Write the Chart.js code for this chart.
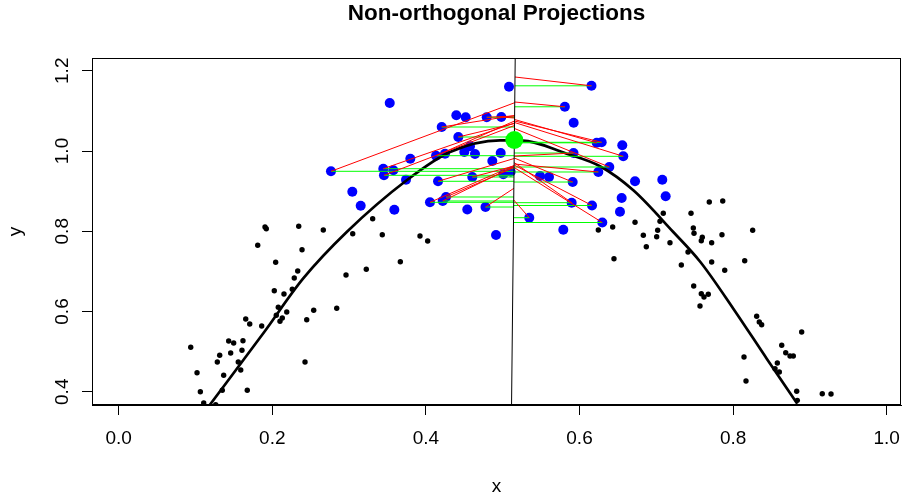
<!DOCTYPE html>
<html>
<head>
<meta charset="utf-8">
<script src="https://cdn.jsdelivr.net/npm/chart.js@4.4.1/dist/chart.umd.min.js"></script>
<style>
  html, body { margin: 0; padding: 0; background: #fff; }
  #wrap { width: 902px; height: 500px; }
</style>
</head>
<body>
<div id="wrap"><canvas id="chart" width="902" height="500"></canvas></div>
<script>
const FONT = "'Liberation Sans', Arial, Helvetica, sans-serif";

// background sample (small black dots)
const blackX = [0.1905, 0.1922, 0.2344, 0.1810, 0.2044, 0.2387, 0.2331, 0.2286, 0.2260, 0.2026,
  0.2152, 0.2078, 0.2052, 0.2188, 0.2130, 0.2100, 0.1862, 0.1654, 0.1706, 0.1432,
  0.1497, 0.1618, 0.0938, 0.1315, 0.1458, 0.1605, 0.1284, 0.1557, 0.1589, 0.1367,
  0.1020, 0.1063, 0.1349, 0.1674, 0.1107, 0.1263,
  0.2664, 0.3047, 0.3432, 0.3923, 0.4023, 0.2960, 0.3224, 0.3667, 0.2839, 0.2539, 0.2448, 0.2426, 0.3307,
  0.7690, 0.7091, 0.7452, 0.6723, 0.6432, 0.6245, 0.7018, 0.7048, 0.7482, 0.6831,
  0.7005, 0.6870, 0.7178, 0.6449, 0.7326, 0.7413, 0.7491, 0.7586, 0.7599, 0.7487,
  0.7586, 0.7621, 0.7677, 0.7569,
  0.7855, 0.7721, 0.8255, 0.7721, 0.8151, 0.7891, 0.8307, 0.8341, 0.8372, 0.8893,
  0.8633, 0.8685, 0.8741, 0.8784, 0.8142, 0.8576, 0.8546, 0.8602, 0.8168, 0.8828,
  0.8836, 0.9161, 0.9275, 0.7865];
const blackY = [0.8106, 0.8064, 0.8123, 0.7650, 0.7226, 0.7540, 0.7009, 0.6835, 0.6553, 0.6518,
  0.6436, 0.6105, 0.5905, 0.5988, 0.5838, 0.5756, 0.5639, 0.5813, 0.5688, 0.5265,
  0.5215, 0.5272, 0.5108, 0.4909, 0.4966, 0.5033, 0.4741, 0.4741, 0.4542, 0.4410,
  0.4475, 0.4001, 0.4036, 0.4036, 0.3720, 0.3677,
  0.8031, 0.7939, 0.7914, 0.7882, 0.7757, 0.6910, 0.7052, 0.7241, 0.6080, 0.6030, 0.5796, 0.4741, 0.8313,
  0.8729, 0.8447, 0.8447, 0.8223, 0.8106, 0.8031, 0.8024, 0.8248, 0.8081, 0.7899,
  0.7864, 0.7615, 0.7715, 0.7316, 0.7159, 0.7483, 0.7949, 0.7764, 0.7849, 0.6636,
  0.6444, 0.6361, 0.6429, 0.6137,
  0.7914, 0.7715, 0.8024, 0.7234, 0.7266, 0.7027, 0.5880, 0.5738, 0.5671, 0.5489,
  0.5158, 0.4973, 0.4891, 0.4891, 0.4866, 0.4717, 0.4575, 0.4492, 0.4268, 0.4011,
  0.3786, 0.3951, 0.3944, 0.8754];

// neighbourhood points (blue)
const blueX = [0.3529, 0.2764, 0.3042, 0.3151, 0.3589, 0.3445, 0.3454, 0.3576, 0.3741, 0.3797,
  0.4206, 0.4396, 0.4518, 0.4792, 0.4982, 0.5082, 0.4422, 0.4132, 0.4249, 0.4500,
  0.4574, 0.4639, 0.4974, 0.4865, 0.4604, 0.4158, 0.5008, 0.5104, 0.4053, 0.4219,
  0.4262, 0.4539, 0.4776, 0.4913, 0.6156, 0.5809, 0.5924, 0.6224, 0.6289, 0.6557,
  0.6570, 0.5922, 0.6388, 0.6245, 0.6723, 0.7078, 0.7122, 0.6549, 0.6527, 0.5486,
  0.5603, 0.5911, 0.5898, 0.6163, 0.5346, 0.6297, 0.5789];
const blueY = [1.1196, 0.9494, 0.8986, 0.8637, 0.8537, 0.9559, 0.9394, 0.9519, 0.9285, 0.9808,
  1.0598, 1.0890, 1.0840, 1.0840, 1.0847, 1.1602, 1.0349, 0.9883, 0.9933, 0.9975,
  1.0117, 0.9925, 0.9950, 0.9751, 0.9352, 0.9245, 0.9419, 0.9484, 0.8721, 0.8754,
  0.8854, 0.8542, 0.8604, 0.7907, 1.1625, 1.1102, 1.0703, 1.0204, 1.0217, 1.0142,
  0.9868, 0.9950, 0.9601, 0.9477, 0.9245, 0.9285, 0.8871, 0.8829, 0.8487, 0.9377,
  0.9352, 0.9227, 0.8712, 0.8642, 0.8338, 0.8218, 0.8039];

// which blue points are projected, and the y where the red projection meets the line
const projIdx = [1, 5, 6, 10, 16, 17, 25, 28, 29, 30, 32, 13, 14, 24,
  34, 35, 37, 38, 40, 42, 43, 51, 52, 53, 55, 54, 41];
const redEndY = [1.1204, 1.0698, 1.0636, 1.0885, 1.0685, 1.0748, 0.9813, 0.9639, 0.9614, 0.9589, 0.9070, 1.0872, 1.0822, 0.9626,
  1.1844, 1.1221, 1.0785, 1.0748, 1.0710, 1.0561, 0.9676, 0.9826, 0.9713, 0.9651, 0.9589, 0.8779, 0.9875];

// fitted curve
const curveX = [0.1185, 0.1895, 0.2400, 0.2969, 0.3750, 0.4314, 0.4965, 0.5225, 0.5833, 0.6267, 0.6701, 0.7221, 0.7574, 0.8003, 0.8438, 0.8836];
const curveY = [0.3670, 0.5489, 0.6817, 0.7981, 0.9270, 0.9975, 1.0267, 1.0267, 0.9933, 0.9620, 0.9021, 0.7981, 0.7234, 0.6070, 0.4824, 0.3702];

// projection line and its centre
const axisLineX = [0.5163, 0.5115];
const axisLineY = [1.2343, 0.3645];
const centerX = [0.5151];
const centerY = [1.0274];

const xTicks = [0, 0.2, 0.4, 0.6, 0.8, 1.0];
const yTicks = [0.4, 0.6, 0.8, 1.0, 1.2];

function lineXAt(y) {
  const t = (y - axisLineY[0]) / (axisLineY[1] - axisLineY[0]);
  return axisLineX[0] + t * (axisLineX[1] - axisLineX[0]);
}

const greenSeg = [];
const redSeg = [];
projIdx.forEach((k, i) => {
  const px = blueX[k], py = blueY[k];
  greenSeg.push({x: px, y: py}, {x: lineXAt(py), y: py}, {x: px, y: null});
  redSeg.push({x: px, y: py}, {x: lineXAt(redEndY[i]), y: redEndY[i]}, {x: px, y: null});
});

const pts = (xs, ys) => xs.map((x, i) => ({x, y: ys[i]}));

const boxPlugin = {
  id: 'box',
  afterDatasetsDraw(chart) {
    const {ctx, chartArea: a} = chart;
    ctx.save();
    ctx.strokeStyle = '#000';
    ctx.lineWidth = 1;
    ctx.strokeRect(Math.round(a.left) + 0.5, Math.round(a.top) + 0.5,
      Math.round(a.right - a.left) - 1, Math.round(a.bottom - a.top) - 1);
    ctx.restore();
  }
};

const tickFont = {family: FONT, size: 19};

new Chart(document.getElementById('chart'), {
  type: 'scatter',
  data: {
    datasets: [
      { label: 'sample', data: pts(blackX, blackY), backgroundColor: '#000', borderWidth: 0, pointRadius: 2.7, order: 7 },
      { label: 'neighbours', data: pts(blueX, blueY), backgroundColor: '#0000ff', borderWidth: 0, pointRadius: 5, order: 6 },
      { type: 'line', label: 'curve', data: pts(curveX, curveY), borderColor: '#000', borderWidth: 2.7,
        pointRadius: 0, cubicInterpolationMode: 'monotone', fill: false, order: 5 },
      { type: 'line', label: 'horizontal', data: greenSeg, borderColor: '#00ff00', borderWidth: 1,
        pointRadius: 0, tension: 0, fill: false, spanGaps: false, order: 4 },
      { type: 'line', label: 'projection', data: redSeg, borderColor: '#ff0000', borderWidth: 1,
        pointRadius: 0, tension: 0, fill: false, spanGaps: false, order: 3 },
      { type: 'line', label: 'axis', data: pts(axisLineX, axisLineY), borderColor: '#000', borderWidth: 1,
        pointRadius: 0, tension: 0, fill: false, order: 2 },
      { label: 'centre', data: pts(centerX, centerY), backgroundColor: '#00ff00', borderWidth: 0, pointRadius: 9, order: 1 }
    ]
  },
  options: {
    responsive: false,
    animation: false,
    devicePixelRatio: 1,
    clip: 0,
    events: [],
    layout: { autoPadding: false, padding: { left: 0, right: 1, top: 0, bottom: 0 } },
    plugins: {
      legend: { display: false },
      tooltip: { enabled: false },
      title: {
        display: true,
        text: 'Non-orthogonal Projections',
        color: '#000',
        fullSize: false,
        font: { family: FONT, size: 22.5, weight: 'bold', lineHeight: 1 },
        padding: { top: 3, bottom: 32.5 }
      }
    },
    scales: {
      x: {
        type: 'linear',
        min: -0.03477,
        max: 1.01862,
        afterBuildTicks: s => { s.ticks = xTicks.map(v => ({value: v})); },
        afterFit: s => { s.height = 95; s.paddingLeft = 0; s.paddingRight = 0; },
        ticks: { font: tickFont, color: '#000', padding: 12, maxRotation: 0, autoSkip: false,
          callback: v => v.toFixed(1) },
        grid: { drawOnChartArea: false, drawTicks: true, tickLength: 10, color: '#000', tickWidth: 1 },
        border: { display: true, color: '#000', width: 1 },
        title: { display: true, text: 'x', color: '#000', font: tickFont, padding: { top: 0, bottom: 2 } }
      },
      y: {
        type: 'linear',
        min: 0.36698,
        max: 1.23178,
        afterBuildTicks: s => { s.ticks = yTicks.map(v => ({value: v})); },
        afterFit: s => { s.width = 92; s.paddingTop = 0; s.paddingBottom = 0; },
        ticks: { font: tickFont, color: '#000', padding: 6, minRotation: 90, maxRotation: 90,
          crossAlign: 'center', autoSkip: false, callback: v => v.toFixed(1) },
        grid: { drawOnChartArea: false, drawTicks: true, tickLength: 10, color: '#000', tickWidth: 1 },
        border: { display: true, color: '#000', width: 1 },
        title: { display: true, text: 'y', color: '#000', font: tickFont, padding: { top: 4, bottom: 0 } }
      }
    }
  },
  plugins: [boxPlugin]
});
</script>
</body>
</html>
